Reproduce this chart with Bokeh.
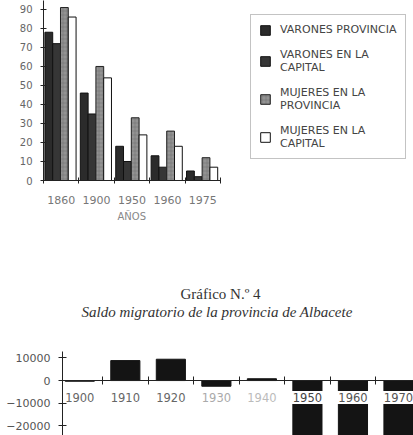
from bokeh.plotting import figure
from bokeh.models import Range1d, FixedTicker, Legend, LegendItem, Title, ColumnDataSource
from bokeh.layouts import column
from bokeh.transform import dodge
from bokeh.core.properties import value
from bokeh.embed import file_html
from bokeh.resources import INLINE

# ---------- Chart 1 data ----------
periods = ["1860", "1900", "1950", "1960", "1975"]
varones_provincia = [78, 46, 18, 13, 5]
varones_capital = [72, 35, 10, 7, 2]
mujeres_provincia = [91, 60, 33, 26, 12]
mujeres_capital = [86, 54, 24, 18, 7]
y_ticks_1 = [0, 10, 20, 30, 40, 50, 60, 70, 80, 90]
legend_labels = ["VARONES PROVINCIA", "VARONES EN LA\nCAPITAL",
                 "MUJERES EN LA\nPROVINCIA", "MUJERES EN LA\nCAPITAL"]
x_title_1 = "AÑOS"

# ---------- Chart 2 data ----------
years = [1900, 1910, 1920, 1930, 1940, 1950, 1960, 1970]
saldo = [-300, 8800, 9400, -2500, 800, -45000, -60000, -40000]
year_label_colors = ["#666", "#666", "#666", "#aaa", "#bbb", "#444", "#555", "#555"]
y_ticks_2 = [-20000, -10000, 0, 10000]
title_main = "Gráfico N.º 4"
title_sub = "Saldo migratorio de la provincia de Albacete"

FONT = "DejaVu Sans"

# ---------- Figure 1 ----------
n = len(periods)
src1 = ColumnDataSource(dict(x=list(range(n)), vp=varones_provincia,
                             vc=varones_capital, mp=mujeres_provincia, mc=mujeres_capital))
# frame spans to the right edge; bars occupy the left part (axis bounded)
p1 = figure(width=413, height=240, x_range=Range1d(-0.5, 9.95),
            y_range=Range1d(0, 94.7), output_backend="svg", toolbar_location=None,
            min_border_left=43, min_border_right=0, min_border_top=0, min_border_bottom=60)
p1.xgrid.visible = False
p1.ygrid.visible = False
p1.outline_line_color = None

bw = 0.22
r1 = p1.vbar(x=dodge('x', -0.35), top='vp', width=bw, source=src1,
             fill_color="#2b2b2b", line_color="#111111", line_width=1)
r2 = p1.vbar(x=dodge('x', -0.13), top='vc', width=bw, source=src1,
             fill_color="#363636", line_color="#111111", line_width=1)
r3 = p1.vbar(x=dodge('x', 0.09), top='mp', width=bw, source=src1,
             fill_color="#939393", line_color="#222222", line_width=1,
             hatch_pattern="cross", hatch_color="#555555", hatch_scale=4,
             hatch_alpha=0.5, hatch_weight=0.6)
r4 = p1.vbar(x=dodge('x', 0.31), top='mc', width=bw, source=src1,
             fill_color="white", line_color="#111111", line_width=1)

ax = p1.xaxis[0]
ax.bounds = (-0.5, n - 0.5)
ax.ticker = FixedTicker(ticks=list(range(n)),
                        minor_ticks=[i - 0.5 for i in range(n + 1)])
ax.major_label_overrides = {i: lab for i, lab in enumerate(periods)}
ax.major_tick_in = 0
ax.major_tick_out = 0
ax.minor_tick_in = 3
ax.minor_tick_out = 3
ax.minor_tick_line_color = "#222"
ax.axis_line_color = "#222"
ax.major_label_standoff = 12
ax.major_label_text_font = FONT
ax.major_label_text_font_size = "11px"
ax.major_label_text_color = "#777"

p1.add_layout(Title(text=x_title_1, align="left", offset=74, standoff=4,
                    text_font=FONT, text_font_size="10px", text_font_style="normal",
                    text_color="#888"), "below")

ay = p1.yaxis[0]
ay.ticker = FixedTicker(ticks=y_ticks_1)
ay.major_tick_in = 3
ay.major_tick_out = 3
ay.minor_tick_line_color = None
ay.axis_line_color = "#222"
ay.major_tick_line_color = "#222"
ay.major_label_text_font = FONT
ay.major_label_text_font_size = "10px"
ay.major_label_text_color = "#666"
ay.major_label_standoff = 8

items = [LegendItem(label=value(lab), renderers=[r]) for lab, r in zip(legend_labels, [r1, r2, r3, r4])]
legend = Legend(items=items, location=(207, 21), orientation="vertical",
                glyph_width=12, glyph_height=12, label_height=12, label_standoff=9,
                padding=8, spacing=12, margin=0, border_line_color="#888",
                border_line_width=1, background_fill_color="white",
                background_fill_alpha=1, label_text_font=FONT,
                label_text_font_size="11px", label_text_color="#444")
p1.add_layout(legend)

# ---------- Figure 2 ----------
src2 = ColumnDataSource(dict(x=years, y=saldo, lab=[str(y) for y in years],
                             col=year_label_colors, zero=[0] * len(years)))
p2 = figure(width=413, height=195, x_range=Range1d(1896.2, 1973.3),
            y_range=Range1d(-24200, 12800), output_backend="svg", toolbar_location=None,
            min_border_left=62, min_border_right=0, min_border_top=111, min_border_bottom=0,
            title=title_main)
p2.xgrid.visible = False
p2.ygrid.visible = False
p2.outline_line_color = None
p2.title.align = "left"
p2.title.offset = 118
p2.title.standoff = 0
p2.title.text_font = "Liberation Serif"
p2.title.text_font_style = "normal"
p2.title.text_font_size = "15px"
p2.title.text_color = "#333"

spacer = Title(text=" ", align="left", text_font_size="26px", standoff=0)
sub = Title(text=title_sub, align="left", offset=19, text_font="Liberation Serif",
            text_font_style="italic", text_font_size="15px", text_color="#333",
            standoff=0)
p2.add_layout(spacer, "above")
p2.add_layout(sub, "above")

p2.vbar(x='x', top='y', width=6.4, source=src2, fill_color="#141414",
        line_color="#141414")
p2.text(x='x', y='zero', text='lab', source=src2, text_align="center",
        text_baseline="middle", y_offset=17, text_font=value(FONT),
        text_font_size="11.5px", text_color='col',
        background_fill_color="white", padding=2)

bx = p2.xaxis[0]
bx.fixed_location = 0
bx.ticker = FixedTicker(ticks=[], minor_ticks=[y + 5 for y in years[:-1]])
bx.major_tick_in = 0
bx.major_tick_out = 0
bx.minor_tick_in = 4
bx.minor_tick_out = 4
bx.minor_tick_line_color = "#222"
bx.axis_line_color = "#222"
bx.major_label_standoff = 0

by = p2.yaxis[0]
by.ticker = FixedTicker(ticks=y_ticks_2)
by.major_tick_in = 4
by.major_tick_out = 4
by.minor_tick_line_color = None
by.axis_line_color = "#222"
by.major_tick_line_color = "#222"
by.major_label_text_font = FONT
by.major_label_text_font_size = "11px"
by.major_label_text_color = "#555"
by.major_label_standoff = 8

layout = column(column(p1), column(p2), spacing=0)
open("out.html", "w").write(file_html(layout, INLINE))
